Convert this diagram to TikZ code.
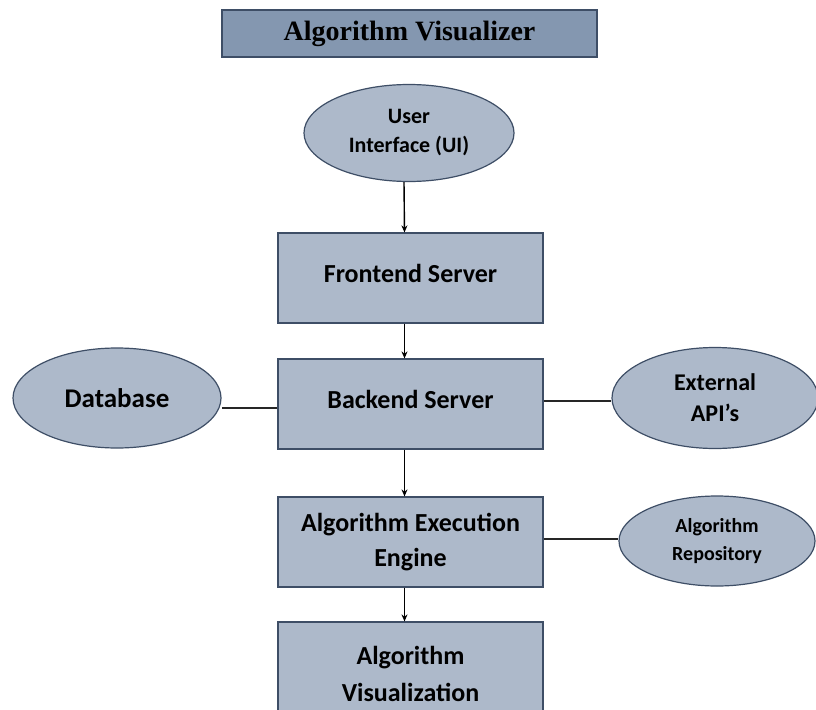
\documentclass[tikz,border=0pt]{standalone}
\usepackage{fontspec}
\setmainfont{Carlito}
\newfontfamily\titlefont{Liberation Serif}
\usetikzlibrary{shapes.geometric,arrows.meta}
\definecolor{boxc}{HTML}{ADB9CA}
\definecolor{titlec}{HTML}{8497B0}
\definecolor{bordc}{HTML}{3E4E66}
\begin{document}
\begin{tikzpicture}[x=1pt,y=-1pt,
  box/.style={draw=bordc, line width=1.2pt, fill=boxc, minimum width=265pt, minimum height=90pt,
    align=center, inner sep=0pt, font=\fontsize{26}{35}\selectfont\bfseries},
  oval/.style={ellipse, draw=bordc, line width=1.2pt, fill=boxc, align=center, inner sep=0pt},
  titlebox/.style={draw=bordc, line width=1.2pt, fill=titlec, minimum width=375pt, minimum height=47pt,
    inner sep=0pt, font=\titlefont\fontsize{28}{32}\selectfont\bfseries},
  arr/.style={-{Stealth[length=7pt,width=6pt]}, line width=1.4pt},
  link/.style={line width=1.7pt, draw=black!85}]
\clip (0,0) rectangle (816,709);
\fill[white] (0,0) rectangle (816,709);

\node[titlebox] (title) at (409.5,33.5) {Algorithm Visualizer};

\node[oval, minimum width=210pt, minimum height=97pt, font=\fontsize{22}{29}\selectfont\bfseries]
  (ui) at (409,133) {User\\Interface (UI)};

\node[box, text depth=10pt] (front) at (410.5,278) {Frontend Server};
\node[box, text depth=10pt] (back) at (410.5,404) {Backend Server};
\node[box] (aee) at (410.5,542) {Algorithm Execution\\Engine};
\node[box, minimum height=104pt, font=\fontsize{26}{37}\selectfont\bfseries] (av) at (410.5,674) {Algorithm\\Visualization};

\node[oval, minimum width=208pt, minimum height=100pt, font=\fontsize{27}{31}\selectfont\bfseries]
  (db) at (117,398) {Database};
\node[oval, minimum width=206pt, minimum height=101pt, font=\fontsize{24}{31}\selectfont\bfseries]
  (ext) at (715,398) {External\\API’s};
\node[oval, minimum width=196pt, minimum height=90pt, font=\fontsize{20}{28}\selectfont\bfseries]
  (repo) at (717,541) {Algorithm\\Repository};

\draw[arr] ([xshift=-5pt]ui.south) -- ([xshift=-6pt]front.north);
\draw[arr] ([xshift=-6pt]front.south) -- ([xshift=-6pt]back.north);
\draw[arr] ([xshift=-6pt]back.south) -- ([xshift=-6pt]aee.north);
\draw[arr] ([xshift=-6pt]aee.south) -- ([xshift=-6pt]av.north);

\draw[link] ([yshift=-4pt]back.west) -- ([yshift=-4pt]back.west -| db.east);
\draw[link] ([yshift=3pt]back.east) -- ([yshift=3pt]back.east -| ext.west);
\draw[link] ([yshift=3pt]aee.east) -- ([yshift=3pt]aee.east -| repo.west);
\end{tikzpicture}
\end{document}
